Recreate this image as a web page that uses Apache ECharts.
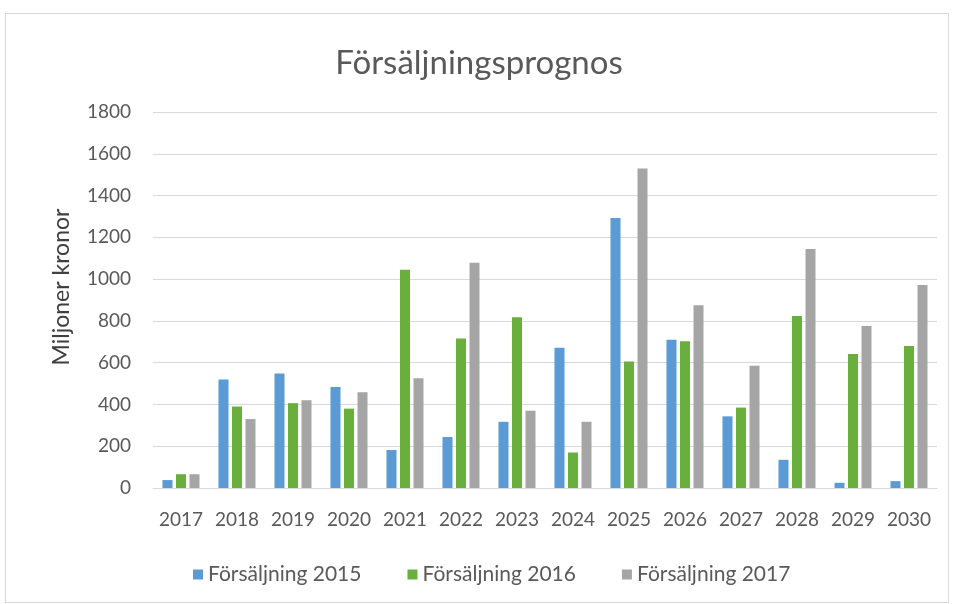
<!DOCTYPE html>
<html>
<head>
<meta charset="utf-8">
<script src="https://cdn.jsdelivr.net/npm/echarts@6/dist/echarts.min.js"></script>
<style>
  html, body { margin: 0; padding: 0; background: #fff; }
  #chart { width: 958px; height: 604px; }
  .frame { position: absolute; left: 5px; top: 13px; width: 944px; height: 590px; border: 1px solid #d9d9d9; box-sizing: border-box; pointer-events: none; }
</style>
</head>
<body>
<div id="chart"></div>
<div class="frame"></div>
<script>
  // kategorier och serier
  var years = ['2017', '2018', '2019', '2020', '2021', '2022', '2023', '2024', '2025', '2026', '2027', '2028', '2029', '2030']
  var sales2015 = [38, 520, 548, 484, 182, 244, 317, 672, 1292, 710, 343, 135, 25, 33]
  var sales2016 = [66, 390, 406, 380, 1045, 716, 818, 170, 605, 703, 385, 824, 642, 680]
  var sales2017 = [66, 330, 420, 458, 525, 1078, 370, 317, 1530, 875, 585, 1144, 776, 972]
  var seriesNames = ['Försäljning 2015', 'Försäljning 2016', 'Försäljning 2017']

  var txt = '#595959'
  var font = 'Lato'

  var chart = echarts.init(document.getElementById('chart'))
  var option = {
    animation: false,
    color: ['#5b9bd5', '#6aae3e', '#a5a5a5'],
    title: {
      text: 'Försäljningsprognos',
      left: 'center',
      top: 42,
      textStyle: { fontFamily: font, fontSize: 33, fontWeight: 'normal', color: txt }
    },
    legend: {
      data: seriesNames,
      bottom: 14,
      left: 188,
      itemWidth: 10,
      itemHeight: 10,
      itemGap: 46,
      icon: 'rect',
      textStyle: { fontFamily: font, fontSize: 21, color: txt }
    },
    grid: { left: 153, right: 21, top: 112, bottom: 116 },
    xAxis: {
      type: 'category',
      data: years,
      axisLine: { lineStyle: { color: '#d9d9d9' } },
      axisTick: { show: false },
      axisLabel: { interval: 0, fontFamily: font, fontSize: 19, color: txt, margin: 22 }
    },
    yAxis: {
      type: 'value',
      min: 0,
      max: 1800,
      interval: 200,
      name: 'Miljoner kronor',
      nameLocation: 'middle',
      nameRotate: 90,
      nameGap: 80,
      nameTextStyle: { fontFamily: font, fontSize: 23, color: '#404040', padding: [0, 0, 0, 26] },
      axisLine: { show: false },
      axisTick: { show: false },
      axisLabel: {
        fontFamily: font, fontSize: 19, color: txt, margin: 22,
        formatter: function (v) { return String(v) }
      },
      splitLine: { lineStyle: { color: '#d9d9d9' } }
    },
    series: [
      { name: seriesNames[0], type: 'bar', data: sales2015, barWidth: 10, barGap: '35%' },
      { name: seriesNames[1], type: 'bar', data: sales2016, barWidth: 10, barGap: '35%' },
      { name: seriesNames[2], type: 'bar', data: sales2017, barWidth: 10, barGap: '35%' }
    ]
  }
  chart.setOption(option)
</script>
</body>
</html>
